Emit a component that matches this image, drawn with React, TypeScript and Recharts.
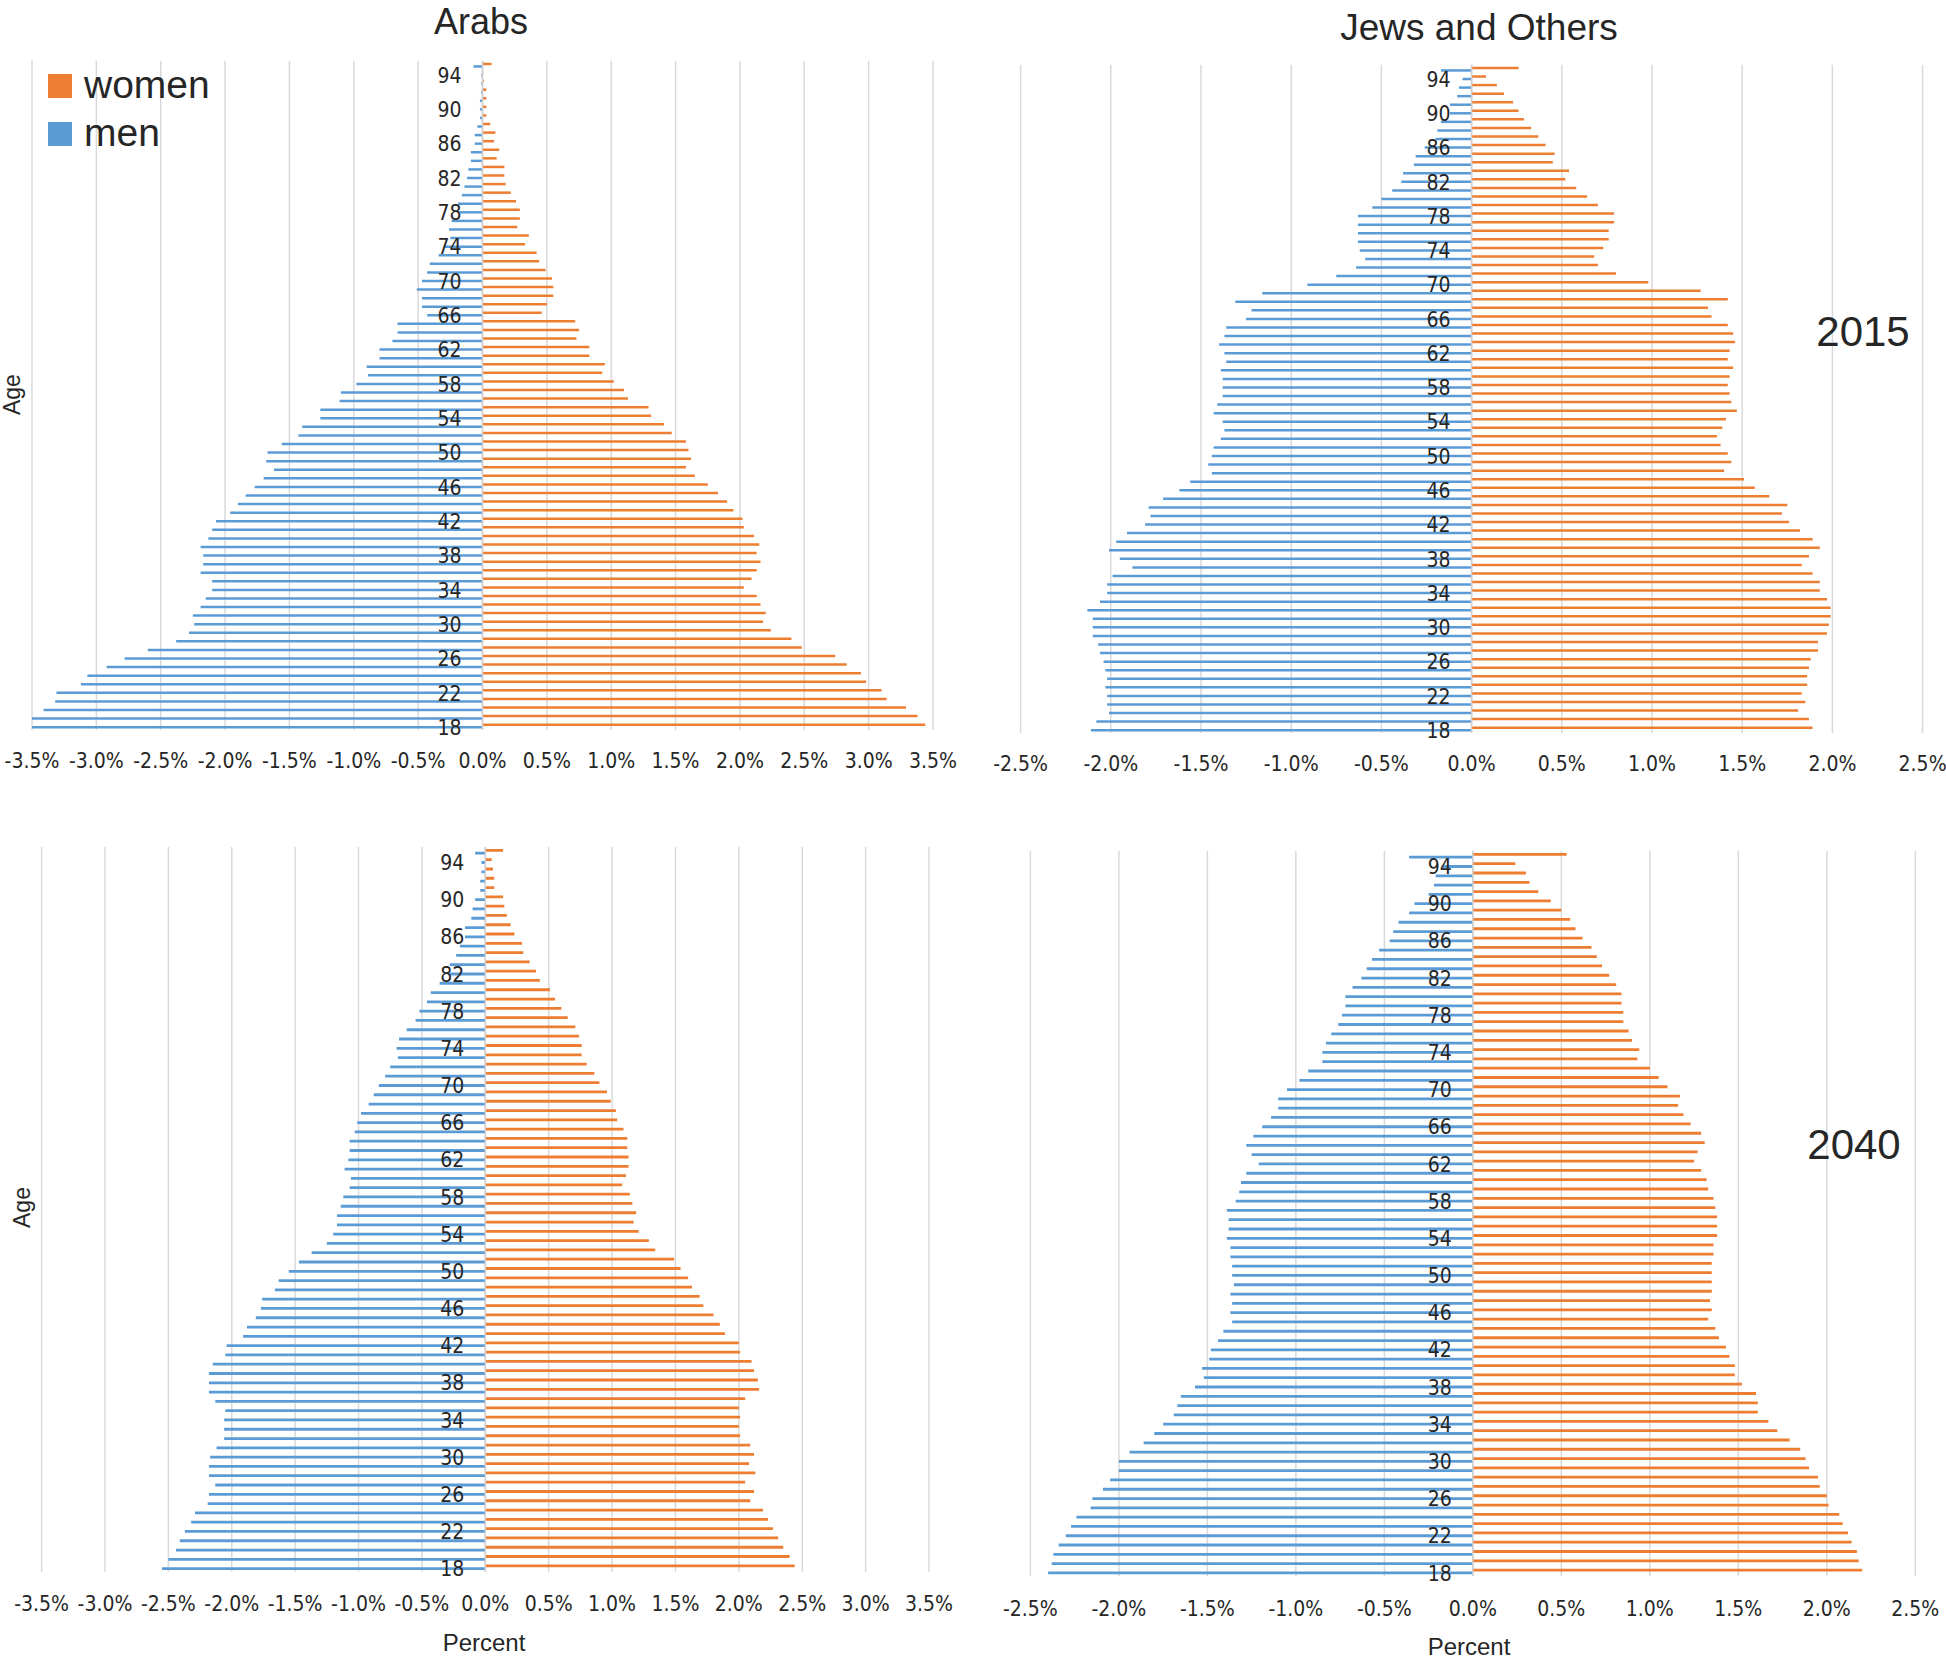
import React from 'react'
import { BarChart, Bar, XAxis, YAxis, CartesianGrid, ReferenceLine, LabelList } from 'recharts'

const AGES = [
  18, 19, 20, 21, 22, 23, 24, 25, 26, 27, 28, 29, 30, 31, 32, 33, 34, 35, 36, 37, 38, 39, 40, 41, 42, 43, 44, 45, 46, 47,
  48, 49, 50, 51, 52, 53, 54, 55, 56, 57, 58, 59, 60, 61, 62, 63, 64, 65, 66, 67, 68, 69, 70, 71, 72, 73, 74, 75, 76, 77,
  78, 79, 80, 81, 82, 83, 84, 85, 86, 87, 88, 89, 90, 91, 92, 93, 94, 95,
]

const arabsTicks = [-3.5, -3, -2.5, -2, -1.5, -1, -0.5, 0, 0.5, 1, 1.5, 2, 2.5, 3, 3.5]
const jewsTicks = [-2.5, -2, -1.5, -1, -0.5, 0, 0.5, 1, 1.5, 2, 2.5]

// values in %, ages 18 -> 95
const arabs2015Women = [
  3.44, 3.38, 3.29, 3.14, 3.1, 2.98, 2.94, 2.83, 2.74, 2.48, 2.4, 2.24, 2.18, 2.2, 2.16, 2.13, 2.03, 2.09, 2.13, 2.16,
  2.13, 2.15, 2.11, 2.03, 2.02, 1.95, 1.9, 1.83, 1.75, 1.65, 1.58, 1.62, 1.6, 1.58, 1.47, 1.41, 1.31, 1.29, 1.13, 1.1,
  1.02, 0.93, 0.95, 0.83, 0.83, 0.73, 0.75, 0.72, 0.46, 0.5, 0.55, 0.55, 0.54, 0.49, 0.44, 0.42, 0.33, 0.36, 0.27, 0.29,
  0.29, 0.26, 0.22, 0.18, 0.17, 0.17, 0.11, 0.13, 0.09, 0.1, 0.06, 0.03, 0.03, 0.03, 0.03, 0.01, 0.005, 0.07,
]
const arabs2015Men = [
  3.5, 3.5, 3.41, 3.32, 3.31, 3.12, 3.07, 2.92, 2.78, 2.6, 2.38, 2.28, 2.24, 2.25, 2.19, 2.15, 2.1, 2.1, 2.19, 2.17,
  2.17, 2.19, 2.13, 2.1, 2.07, 1.96, 1.9, 1.84, 1.77, 1.7, 1.62, 1.68, 1.67, 1.56, 1.43, 1.4, 1.26, 1.26, 1.11, 1.1,
  0.98, 0.89, 0.9, 0.8, 0.8, 0.7, 0.66, 0.66, 0.43, 0.47, 0.47, 0.51, 0.47, 0.43, 0.41, 0.34, 0.3, 0.25, 0.26, 0.24,
  0.19, 0.19, 0.16, 0.14, 0.12, 0.11, 0.09, 0.09, 0.06, 0.06, 0.04, 0.02, 0.02, 0.02, 0.01, 0.01, 0.01, 0.07,
]
const jews2015Women = [
  1.89, 1.87, 1.81, 1.85, 1.83, 1.86, 1.86, 1.87, 1.88, 1.92, 1.92, 1.97, 1.98, 1.99, 1.99, 1.97, 1.93, 1.93, 1.89, 1.83,
  1.87, 1.93, 1.89, 1.82, 1.76, 1.72, 1.75, 1.65, 1.57, 1.51, 1.4, 1.44, 1.42, 1.38, 1.36, 1.39, 1.41, 1.47, 1.44, 1.43,
  1.42, 1.43, 1.45, 1.42, 1.43, 1.46, 1.45, 1.42, 1.33, 1.31, 1.42, 1.27, 0.98, 0.8, 0.7, 0.68, 0.73, 0.76, 0.76, 0.79,
  0.79, 0.7, 0.64, 0.58, 0.52, 0.54, 0.45, 0.46, 0.41, 0.37, 0.33, 0.29, 0.26, 0.23, 0.18, 0.14, 0.08, 0.26,
]
const jews2015Men = [
  2.11, 2.08, 2.01, 2.02, 2.02, 2.03, 2.02, 2.03, 2.04, 2.06, 2.07, 2.1, 2.1, 2.1, 2.13, 2.06, 2.02, 2.02, 1.99, 1.88,
  1.95, 2.01, 1.97, 1.91, 1.81, 1.78, 1.79, 1.71, 1.62, 1.56, 1.44, 1.46, 1.44, 1.43, 1.39, 1.37, 1.38, 1.43, 1.41, 1.38,
  1.38, 1.38, 1.39, 1.36, 1.37, 1.4, 1.37, 1.36, 1.25, 1.22, 1.31, 1.16, 0.91, 0.75, 0.64, 0.59, 0.62, 0.63, 0.63, 0.63,
  0.63, 0.55, 0.5, 0.44, 0.39, 0.38, 0.32, 0.31, 0.26, 0.2, 0.19, 0.17, 0.12, 0.12, 0.08, 0.07, 0.05, 0.17,
]
const arabs2040Women = [
  2.44, 2.4, 2.35, 2.31, 2.27, 2.23, 2.19, 2.09, 2.12, 2.05, 2.13, 2.08, 2.12, 2.09, 2.01, 2.0, 2.01, 2.0, 2.05, 2.16,
  2.15, 2.12, 2.1, 2.01, 2.0, 1.89, 1.85, 1.8, 1.72, 1.69, 1.63, 1.6, 1.54, 1.49, 1.34, 1.29, 1.21, 1.17, 1.19, 1.16,
  1.14, 1.08, 1.11, 1.13, 1.13, 1.12, 1.12, 1.09, 1.04, 1.03, 0.99, 0.96, 0.9, 0.86, 0.8, 0.76, 0.76, 0.74, 0.71, 0.65,
  0.6, 0.55, 0.51, 0.43, 0.4, 0.35, 0.3, 0.29, 0.23, 0.2, 0.17, 0.15, 0.14, 0.07, 0.07, 0.06, 0.05, 0.14,
]
const arabs2040Men = [
  2.55, 2.5, 2.44, 2.41, 2.37, 2.32, 2.29, 2.19, 2.18, 2.13, 2.18, 2.18, 2.17, 2.12, 2.06, 2.06, 2.06, 2.05, 2.13, 2.18,
  2.18, 2.18, 2.15, 2.05, 2.04, 1.91, 1.88, 1.81, 1.77, 1.76, 1.66, 1.63, 1.55, 1.47, 1.37, 1.25, 1.2, 1.17, 1.17, 1.14,
  1.12, 1.07, 1.06, 1.11, 1.08, 1.07, 1.07, 1.03, 1.01, 0.98, 0.92, 0.88, 0.84, 0.79, 0.75, 0.69, 0.7, 0.68, 0.62, 0.55,
  0.52, 0.46, 0.43, 0.36, 0.29, 0.28, 0.23, 0.2, 0.16, 0.16, 0.11, 0.1, 0.08, 0.04, 0.04, 0.03, 0.03, 0.08,
]
const jews2040Women = [
  2.2, 2.18, 2.17, 2.14, 2.12, 2.09, 2.07, 2.01, 2.0, 1.96, 1.95, 1.9, 1.88, 1.85, 1.79, 1.72, 1.67, 1.61, 1.61, 1.6,
  1.52, 1.48, 1.48, 1.45, 1.43, 1.39, 1.37, 1.33, 1.35, 1.34, 1.35, 1.35, 1.35, 1.35, 1.36, 1.36, 1.38, 1.38, 1.38, 1.37,
  1.36, 1.33, 1.32, 1.29, 1.25, 1.27, 1.31, 1.29, 1.23, 1.19, 1.16, 1.17, 1.1, 1.05, 1.0, 0.93, 0.94, 0.9, 0.88, 0.85,
  0.85, 0.84, 0.84, 0.81, 0.77, 0.73, 0.7, 0.67, 0.62, 0.58, 0.55, 0.5, 0.44, 0.37, 0.32, 0.3, 0.24, 0.53,
]
const jews2040Men = [
  2.4, 2.38, 2.37, 2.34, 2.3, 2.27, 2.24, 2.16, 2.15, 2.09, 2.05, 2.0, 2.0, 1.94, 1.86, 1.8, 1.75, 1.69, 1.67, 1.65,
  1.57, 1.52, 1.53, 1.49, 1.48, 1.44, 1.41, 1.36, 1.37, 1.36, 1.37, 1.35, 1.36, 1.36, 1.37, 1.37, 1.39, 1.38, 1.38, 1.39,
  1.34, 1.32, 1.31, 1.28, 1.21, 1.25, 1.28, 1.24, 1.19, 1.14, 1.1, 1.1, 1.05, 0.98, 0.93, 0.85, 0.85, 0.83, 0.8, 0.76,
  0.74, 0.72, 0.72, 0.68, 0.63, 0.6, 0.57, 0.53, 0.47, 0.45, 0.42, 0.36, 0.33, 0.25, 0.22, 0.21, 0.17, 0.36,
]

const WOMEN = '#ED7D31'
const MEN = '#5B9BD5'
const GRID = '#d9d9d9'
const INK = '#262626'
const NARROW = "'Liberation Sans Narrow', 'DejaVu Sans Condensed', 'Liberation Sans', sans-serif"
const SANS = "'Liberation Sans', Arial, sans-serif"

const pct = (v: number) => `${v.toFixed(1)}%`

// age label drawn left of the zero line, on the men bar (second bar of each band)
function AgeLabel(props: any) {
  const box = props.viewBox && typeof props.viewBox.x === 'number' ? props.viewBox : props
  const { x, y, width } = box
  const age = Number(props.value)
  if ((age - 18) % 4 !== 0) return null
  const zero = Math.max(x, x + width)
  return (
    <text x={zero - 21} y={y + 9} textAnchor="end" fontSize={21} fontFamily={NARROW} fill={INK}>
      {age}
    </text>
  )
}

interface PyramidProps {
  women: number[]
  men: number[]
  ticks: number[]
  left: number
  top: number
  width: number
  height: number
  margin: { top: number; right: number; bottom: number; left: number }
  axisHeight: number
  tickMargin: number
  barSize: number
}

function Pyramid({ women, men, ticks, left, top, width, height, margin, axisHeight, tickMargin, barSize }: PyramidProps) {
  const data = AGES.map((age, i) => ({ age, women: women[i], men: -men[i] }))
  const limit = ticks[ticks.length - 1]
  return (
    <div style={{ position: 'absolute', left, top }}>
      <BarChart width={width} height={height} data={data} layout="vertical" margin={margin} barGap={0} barSize={barSize}>
        <CartesianGrid horizontal={false} stroke={GRID} strokeWidth={1.5} />
        <XAxis
          type="number"
          domain={[-limit, limit]}
          ticks={ticks}
          interval={0}
          allowDataOverflow
          tickFormatter={pct}
          axisLine={false}
          tickLine={false}
          tickMargin={tickMargin}
          height={axisHeight}
          tick={{ fontSize: 21, fill: INK, fontFamily: NARROW }}
        />
        <YAxis type="category" dataKey="age" reversed hide />
        <ReferenceLine x={0} stroke="#cfcfcf" strokeWidth={1.5} />
        <Bar dataKey="women" fill={WOMEN} isAnimationActive={false} />
        <Bar dataKey="men" fill={MEN} isAnimationActive={false}>
          <LabelList dataKey="age" content={AgeLabel} />
        </Bar>
      </BarChart>
    </div>
  )
}

export default function App() {
  return (
    <div style={{ position: 'absolute', left: 0, top: 0, width: 1946, height: 1659, background: '#fff', overflow: 'hidden' }}>
      <Pyramid
        women={arabs2015Women}
        men={arabs2015Men}
        ticks={arabsTicks}
        left={0}
        top={0}
        width={960}
        height={800}
        margin={{ top: 60.7, right: 27, bottom: 0, left: 32 }}
        axisHeight={70}
        tickMargin={17}
        barSize={2.5}
      />
      <Pyramid
        women={jews2015Women}
        men={jews2015Men}
        ticks={jewsTicks}
        left={990}
        top={0}
        width={956}
        height={800}
        margin={{ top: 64.7, right: 23.4, bottom: 0, left: 30.6 }}
        axisHeight={67}
        tickMargin={17}
        barSize={2.5}
      />
      <Pyramid
        women={arabs2040Women}
        men={arabs2040Men}
        ticks={arabsTicks}
        left={0}
        top={820}
        width={960}
        height={839}
        margin={{ top: 27, right: 31, bottom: 0, left: 41.6 }}
        axisHeight={87.3}
        tickMargin={18.5}
        barSize={2.8}
      />
      <Pyramid
        women={jews2040Women}
        men={jews2040Men}
        ticks={jewsTicks}
        left={990}
        top={820}
        width={956}
        height={839}
        margin={{ top: 31, right: 30.7, bottom: 0, left: 40.4 }}
        axisHeight={83}
        tickMargin={19.5}
        barSize={2.8}
      />
      <svg width={1946} height={1659} style={{ position: 'absolute', left: 0, top: 0, pointerEvents: 'none' }}>
        <g fontFamily={SANS} fill={INK}>
          <text x={481} y={34} fontSize={36} textAnchor="middle">Arabs</text>
          <text x={1479} y={40} fontSize={37} textAnchor="middle">Jews and Others</text>
          <text x={1863} y={346} fontSize={42} textAnchor="middle">2015</text>
          <text x={1854} y={1159} fontSize={42} textAnchor="middle">2040</text>

          <rect x={48} y={74} width={24} height={24} fill={WOMEN} />
          <text x={84} y={98} fontSize={39}>women</text>
          <rect x={48} y={122} width={24} height={24} fill={MEN} />
          <text x={84} y={146} fontSize={39}>men</text>

          <text x={0} y={0} fontSize={23} textAnchor="middle" dominantBaseline="central" transform="translate(12.4 394.6) rotate(-90)">Age</text>
          <text x={0} y={0} fontSize={23} textAnchor="middle" dominantBaseline="central" transform="translate(22 1207.5) rotate(-90)">Age</text>

          <text x={484} y={1651} fontSize={24} textAnchor="middle">Percent</text>
          <text x={1469} y={1655} fontSize={24} textAnchor="middle">Percent</text>
        </g>
      </svg>
    </div>
  )
}
